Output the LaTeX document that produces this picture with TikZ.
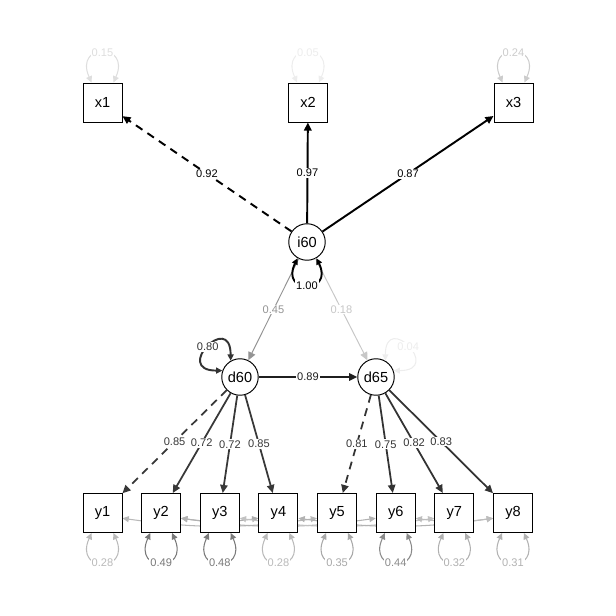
\documentclass[tikz,border=0pt]{standalone}
\usepackage{fontspec}
\setmainfont{Liberation Sans}
\usetikzlibrary{arrows.meta,backgrounds}

\begin{document}
\begin{tikzpicture}[x=0.02cm, y=0.02cm,
    obs/.style={draw, line width=0.55pt, fill=white, minimum size=0.78cm, inner sep=0pt, font=\fontsize{8.3}{9}\selectfont},
    lat/.style={draw, circle, line width=0.55pt, fill=white, minimum size=0.73cm, inner sep=0pt, font=\fontsize{8.3}{9}\selectfont},
    regarrow/.style={-{Triangle[length=4.6pt,width=4.2pt]}},
    twohead/.style={{Triangle[length=3.6pt,width=3.4pt]}-{Triangle[length=3.6pt,width=3.4pt]}},
    lab/.style={fill=white, inner sep=0.5pt, font=\fontsize{6.3}{7}\selectfont},
    longdash/.style={dash pattern=on 4.5pt off 3.4pt}
]
    \useasboundingbox (0,0) rectangle (616,616);

    % --- Latent variables ---
    \node[lat] (i60) at (307,374) {i60};
    \node[lat] (d60) at (240,239) {d60};
    \node[lat] (d65) at (376,239) {d65};

    % --- Indicators ---
    \node[obs] (x1) at (102.5,513.5) {x1};
    \node[obs] (x2) at (308,513.5) {x2};
    \node[obs] (x3) at (513.5,513.5) {x3};
    \foreach \i in {1,...,8} {
        \node[obs] (y\i) at ({102.5+58.64*(\i-1)},103) {y\i};
    }

    % --- Residual covariances (behind the boxes) ---
    \begin{scope}[on background layer]
        \foreach \a/\b/\c in {y1/y5/28, y2/y4/32, y2/y6/30, y3/y7/24, y4/y8/30, y6/y8/26} {
            \draw[twohead, black!\c, line width=0.6pt] ([yshift=-3pt]\a.east) to[bend right=8] ([yshift=-3pt]\b.west);
        }
    \end{scope}

    % --- Measurement model ---
    \draw[regarrow, line width=1.1pt, longdash] (i60) -- node[lab] {0.92} (x1);
    \draw[regarrow, line width=1.1pt] (i60) -- node[lab] {0.97} (x2);
    \draw[regarrow, line width=1.1pt] (i60) -- node[lab] {0.87} (x3);

    \draw[regarrow, black!78, line width=1pt, longdash] (d60) -- node[lab] {0.85} (y1);
    \foreach \n/\v in {2/0.72, 3/0.72, 4/0.85} {
        \draw[regarrow, black!78, line width=1pt] (d60) -- node[lab] {\v} (y\n);
    }
    \draw[regarrow, black!80, line width=1pt, longdash] (d65) -- node[lab] {0.81} (y5);
    \foreach \n/\v in {6/0.75, 7/0.82, 8/0.83} {
        \draw[regarrow, black!80, line width=1pt] (d65) -- node[lab] {\v} (y\n);
    }

    % --- Structural paths ---
    \draw[regarrow, black!42, line width=0.55pt] (i60) -- node[lab] {0.45} (d60);
    \draw[regarrow, black!22, line width=0.55pt] (i60) -- node[lab] {0.18} (d65);
    \draw[regarrow, black!88, line width=1.1pt] (d60) -- node[lab] {0.89} (d65);

    % --- Variances ---
    \draw[twohead, line width=1.1pt] (i60.240) .. controls +(-18,-36) and +(18,-36) .. node[lab] {1.00} (i60.300);
    \draw[twohead, black!80, line width=1.1pt] (d60.120) .. controls +(0,50) and +(-50,0) .. node[lab] {0.80} (d60.160);
    \draw[twohead, black!7, line width=0.6pt] (d65.60) .. controls +(0,50) and +(50,0) .. node[lab] {0.04} (d65.20);

    \foreach \n/\v/\c in {x1/0.15/13, x2/0.05/7, x3/0.24/20} {
        \draw[twohead, black!\c, line width=0.6pt] ([xshift=-6.2pt]\n.north) .. controls +(-18,40) and +(18,40) .. node[lab] {\v} ([xshift=6.2pt]\n.north);
    }
    \foreach \i/\v/\c in {1/0.28/27, 2/0.49/53, 3/0.48/52, 4/0.28/27, 5/0.35/34, 6/0.44/46, 7/0.32/31, 8/0.31/30} {
        \draw[twohead, black!\c, line width=0.6pt] ([xshift=-6.2pt]y\i.south) .. controls +(-18,-40) and +(18,-40) .. node[lab] {\v} ([xshift=6.2pt]y\i.south);
    }
\end{tikzpicture}
\end{document}
